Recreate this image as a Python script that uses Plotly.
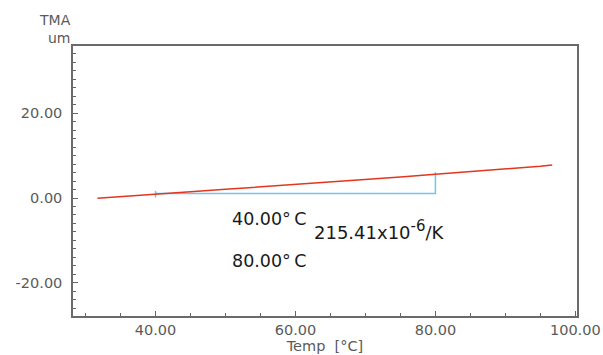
import plotly.graph_objects as go

# TMA curve (Temp in °C, displacement in um)
temp = [31.7, 35, 40, 45, 50, 55, 60, 65, 70, 75, 80, 85, 90, 95, 96.7]
tma = [-0.07, 0.35, 0.95, 1.5, 2.05, 2.6, 3.2, 3.75, 4.3, 4.95, 5.6, 6.2, 6.8, 7.5, 7.8]

# CTE analysis construction
cte_x = [40, 80, 80]
cte_y = [1.04, 1.04, 6.1]
mark40_x = [40, 40]
mark40_y = [0.1, 1.65]

x_ticks = [40, 60, 80, 100]
x_labels = ["40.00", "60.00", "80.00", "100.00"]
y_ticks = [-20, 0, 20]
y_labels = ["-20.00", "0.00", "20.00"]

gray = "#5a5a5a"
font_fam = "DejaVu Sans"
blue = "#6cc8f2"

fig = go.Figure()
fig.add_trace(go.Scatter(x=cte_x, y=cte_y, mode="lines",
                         line=dict(color=blue, width=1.5), hoverinfo="skip"))
fig.add_trace(go.Scatter(x=mark40_x, y=mark40_y, mode="lines",
                         line=dict(color=blue, width=1.5), hoverinfo="skip"))
fig.add_trace(go.Scatter(x=temp, y=tma, mode="lines",
                         line=dict(color="#e4361e", width=1.5)))

fig.update_layout(
    width=603, height=355,
    margin=dict(l=73, r=26, t=46, b=39),
    paper_bgcolor="white", plot_bgcolor="white",
    showlegend=False,
    font=dict(family=font_fam, color=gray, size=14.5),
    xaxis=dict(range=[28.2, 100.24], tickvals=x_ticks, ticktext=x_labels,
               ticks="inside", ticklen=5, tickcolor="#666", showgrid=False,
               zeroline=False, showline=True, linecolor="#6a6a6a", linewidth=1.5,
               mirror=True, automargin=False,
               minor=dict(dtick=5, ticks="inside", ticklen=3, tickcolor="#666"),
               title=dict(text="Temp  [°C]", standoff=2,
                          font=dict(size=14.5, color=gray))),
    yaxis=dict(range=[-27.83, 35.85], tickvals=y_ticks, ticktext=y_labels,
               ticks="inside", ticklen=5, tickcolor="#666", showgrid=False,
               zeroline=False, showline=True, linecolor="#6a6a6a", linewidth=1.5,
               mirror=True, ticklabelstandoff=6, automargin=False,
               minor=dict(dtick=2, ticks="inside", ticklen=3, tickcolor="#666")),
)

# y-axis title (two lines, top-left)
fig.add_annotation(text="TMA", xref="paper", yref="paper", x=0, y=1,
                   xanchor="right", yanchor="middle", xshift=0, yshift=26.5,
                   showarrow=False, font=dict(size=14, color=gray))
fig.add_annotation(text="um", xref="paper", yref="paper", x=0, y=1,
                   xanchor="right", yanchor="middle", xshift=0, yshift=8,
                   showarrow=False, font=dict(size=14, color=gray))

# analysis result texts
txt_font = dict(size=17.5, color="#1a1a1a", family=font_fam)
fig.add_annotation(text="40.00°\u2009C", x=50.6, y=-5.0, xanchor="left", yanchor="middle",
                   showarrow=False, font=txt_font)
fig.add_annotation(text="215.41x10<sup><span style='font-size:15px'>-6</span></sup>/K",
                   x=62.3, y=-7.6, xanchor="left",
                   yanchor="middle", showarrow=False,
                   font=dict(size=18, color="#1a1a1a", family=font_fam))
fig.add_annotation(text="80.00°\u2009C", x=50.6, y=-14.9, xanchor="left", yanchor="middle",
                   showarrow=False, font=txt_font)

fig.write_html("out.html", config={"displayModeBar": False},
               post_script="document.body.style.margin='0px';document.body.style.padding='0px';")
